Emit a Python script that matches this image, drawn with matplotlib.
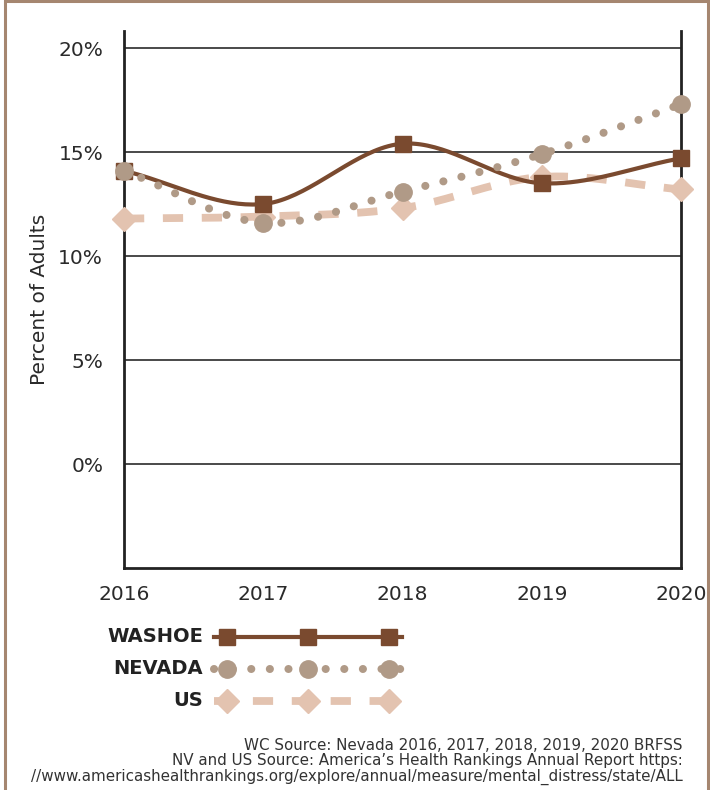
import numpy as np
import matplotlib.pyplot as plt
from matplotlib.patches import Rectangle

plt.rcParams['font.family'] = ['DejaVu Sans']

years = [2016, 2017, 2018, 2019, 2020]
washoe = [14.1, 12.5, 15.4, 13.5, 14.7]
nevada = [14.1, 11.6, 13.1, 14.9, 17.3]
us = [11.8, 11.9, 12.3, 13.8, 13.2]

series_names = ["WASHOE", "NEVADA", "US"]
colors = ["#7a4a2f", "#b09a87", "#e3c3b0"]
source_lines = [
    "WC Source: Nevada 2016, 2017, 2018, 2019, 2020 BRFSS",
    "NV and US Source: America\u2019s Health Rankings Annual Report https:",
    "//www.americashealthrankings.org/explore/annual/measure/mental_distress/state/ALL",
]


def smooth(x, y, n=40):
    # Catmull-Rom curve through the points (like Excel's smoothed line)
    x = np.asarray(x, float)
    y = np.asarray(y, float)
    px = np.concatenate([[2 * x[0] - x[1]], x, [2 * x[-1] - x[-2]]])
    py = np.concatenate([[2 * y[0] - y[1]], y, [2 * y[-1] - y[-2]]])
    xs, ys = [], []
    t = np.linspace(0, 1, n)
    for i in range(1, len(px) - 2):
        for p, out in ((px, xs), (py, ys)):
            p0, p1, p2, p3 = p[i - 1], p[i], p[i + 1], p[i + 2]
            out.append(0.5 * ((2 * p1) + (-p0 + p2) * t
                              + (2 * p0 - 5 * p1 + 4 * p2 - p3) * t ** 2
                              + (-p0 + 3 * p1 - 3 * p2 + p3) * t ** 3))
    return np.concatenate(xs), np.concatenate(ys)


fig = plt.figure(figsize=(7.1, 7.9), dpi=100)
ax = fig.add_axes([124 / 710, 1 - 568 / 790, 557 / 710, (568 - 31.4) / 790])

styles = {
    "WASHOE": dict(lw=3.0, ls="-", marker="s", ms=11.5),
    "NEVADA": dict(lw=5.8, ls=(0, (0.01, 2.3)), marker="o", ms=12.5, dash_capstyle="round"),
    "US": dict(lw=5.6, ls=(0, (2.6, 2.4)), marker="D", ms=12.5, dash_capstyle="butt"),
}
data = {"WASHOE": washoe, "NEVADA": nevada, "US": us}
zorders = {"US": 3, "WASHOE": 4, "NEVADA": 5}

for name, color in zip(series_names, colors):
    st = styles[name]
    sx, sy = smooth(years, data[name])
    ax.plot(sx, sy, color=color, lw=st["lw"], ls=st["ls"], zorder=zorders[name],
            clip_on=False, **({"dash_capstyle": st["dash_capstyle"]} if "dash_capstyle" in st else {}))
    ax.plot(years, data[name], ls="none", marker=st["marker"], ms=st["ms"], color=color,
            mec=color, zorder=zorders[name] + 0.1, clip_on=False)

ax.set_xlim(2016, 2020)
ax.set_ylim(-5, 20.8)
ax.set_xticks(years)
ax.set_xticklabels([str(y) for y in years])
ax.set_yticks([0, 5, 10, 15, 20])
ax.set_yticklabels(["0%", "5%", "10%", "15%", "20%"])
ax.tick_params(length=0, labelsize=14.5, colors="#2a2a2a")
ax.tick_params(axis="y", pad=15)
ax.tick_params(axis="x", pad=12)
ax.grid(axis="y", color="#3a3a3a", lw=1.3)
ax.set_axisbelow(True)
ax.spines["top"].set_visible(False)
for s in ["left", "right", "bottom"]:
    ax.spines[s].set_color("#222222")
    ax.spines[s].set_linewidth(2)
ax.set_ylabel("Percent of Adults", fontsize=14.5, color="#2a2a2a", labelpad=7)

# custom legend
lax = fig.add_axes([0, 0, 1, 1], facecolor="none")
lax.set_xlim(0, 710)
lax.set_ylim(790, 0)
lax.axis("off")
rows = [637, 669, 701]
for name, color, yy in zip(series_names, colors, rows):
    st = styles[name]
    lax.plot([214, 402], [yy, yy], color=color, lw=st["lw"], ls=st["ls"],
             **({"dash_capstyle": st["dash_capstyle"]} if "dash_capstyle" in st else {}))
    lax.plot([227, 308, 389], [yy] * 3, ls="none", marker=st["marker"], ms=st["ms"],
             color=color, mec=color)
    lax.text(203, yy, name, ha="right", va="center", fontsize=14, fontweight="bold",
             color="#222222")

for i, line in enumerate(source_lines):
    lax.text(683, 745 + 16 * i, line, ha="right", va="center", fontsize=10.9,
             color="#333333")

fig.patches.append(Rectangle((5 / 710, -0.1), 703 / 710, 1.1 - 1.5 / 790,
                             transform=fig.transFigure, fill=False,
                             edgecolor="#a58670", lw=2.2))

fig.savefig("out.png", dpi=100)
